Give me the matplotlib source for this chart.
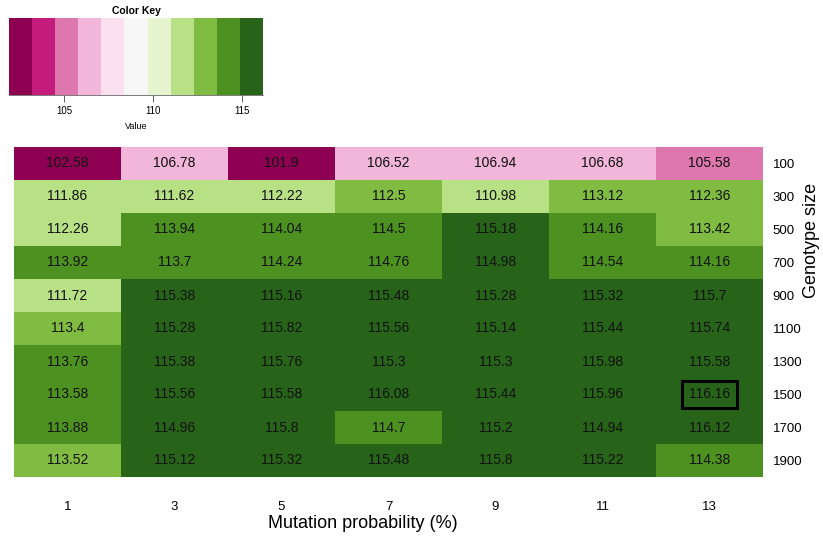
import numpy as np
import matplotlib
matplotlib.use("Agg")
import matplotlib.pyplot as plt
from matplotlib.colors import ListedColormap, BoundaryNorm
from matplotlib.patches import Rectangle

plt.rcParams['font.family'] = ['Liberation Sans', 'DejaVu Sans']

mutation = [1, 3, 5, 7, 9, 11, 13]
genotype = [100, 300, 500, 700, 900, 1100, 1300, 1500, 1700, 1900]
values = [
    [102.58, 106.78, 101.9, 106.52, 106.94, 106.68, 105.58],
    [111.86, 111.62, 112.22, 112.5, 110.98, 113.12, 112.36],
    [112.26, 113.94, 114.04, 114.5, 115.18, 114.16, 113.42],
    [113.92, 113.7, 114.24, 114.76, 114.98, 114.54, 114.16],
    [111.72, 115.38, 115.16, 115.48, 115.28, 115.32, 115.7],
    [113.4, 115.28, 115.82, 115.56, 115.14, 115.44, 115.74],
    [113.76, 115.38, 115.76, 115.3, 115.3, 115.98, 115.58],
    [113.58, 115.56, 115.58, 116.08, 115.44, 115.96, 116.16],
    [113.88, 114.96, 115.8, 114.7, 115.2, 114.94, 116.12],
    [113.52, 115.12, 115.32, 115.48, 115.8, 115.22, 114.38],
]
piyg = ["#8E0152", "#C51B7D", "#DE77AE", "#F1B6DA", "#FDE0EF", "#F7F7F7",
        "#E6F5D0", "#B8E186", "#7FBC41", "#4D9221", "#276419"]

data = np.array(values)
vmin, vmax = data.min(), data.max()
bounds = np.linspace(vmin, vmax, len(piyg) + 1)
cmap = ListedColormap(piyg)
norm = BoundaryNorm(bounds, cmap.N)

fig = plt.figure(figsize=(8.23, 5.40), dpi=100)
W, H = 823.0, 540.0

# main heatmap
ax = fig.add_axes([14 / W, 1 - 477 / H, (763 - 14) / W, (477 - 147) / H])
ax.pcolormesh(np.arange(len(mutation) + 1), np.arange(len(genotype) + 1), data,
              cmap=cmap, norm=norm)
ax.set_xlim(0, len(mutation))
ax.set_ylim(len(genotype), 0)
for i in range(len(genotype)):
    for j in range(len(mutation)):
        ax.text(j + 0.5, i + 0.5, f"{values[i][j]:g}", ha="center", va="center",
                fontsize=10, color="#111111")
imax = np.unravel_index(np.argmax(data), data.shape)
ax.add_patch(Rectangle((imax[1] + 0.24, imax[0] + 0.09), 0.52, 0.82,
                       fill=False, lw=2.2, ec="black"))
for s in ax.spines.values():
    s.set_visible(False)
ax.set_xticks(np.arange(len(mutation)) + 0.5)
ax.set_xticklabels([str(m) for m in mutation], fontsize=9.5)
ax.tick_params(axis="x", length=0, pad=17)
ax.yaxis.tick_right()
ax.set_yticks(np.arange(len(genotype)) + 0.5)
ax.set_yticklabels([str(g) for g in genotype], fontsize=9.5, ha="left")
ax.tick_params(axis="y", length=0, pad=7)
fig.text(363 / W, 1 - 523 / H, "Mutation probability (%)", fontsize=13,
         ha="center", va="center")
fig.text(812 / W, 1 - 240 / H, "Genotype size", fontsize=13, rotation=90,
         ha="center", va="center")

# colour key
kax = fig.add_axes([9 / W, 1 - 95 / H, (263 - 9) / W, (95 - 18) / H])
kax.pcolormesh(bounds, [0, 1], bounds[:-1][None, :] + 1e-9, cmap=cmap, norm=norm)
kax.set_xlim(vmin, vmax)
kax.set_ylim(0, 1)
kax.set_yticks([])
kax.set_xticks([105, 110, 115])
kax.tick_params(axis="x", labelsize=7, length=5, width=0.6, color="#444444", pad=3)
for s in kax.spines.values():
    s.set_visible(False)
kax.spines["bottom"].set_visible(True)
kax.spines["bottom"].set_linewidth(0.6)
kax.spines["bottom"].set_color("#666666")
kax.set_xlabel("Value", fontsize=6.5, labelpad=4)
kax.set_title("Color Key", fontsize=7.5, fontweight="bold", pad=3)

fig.savefig("out.png", dpi=100)
